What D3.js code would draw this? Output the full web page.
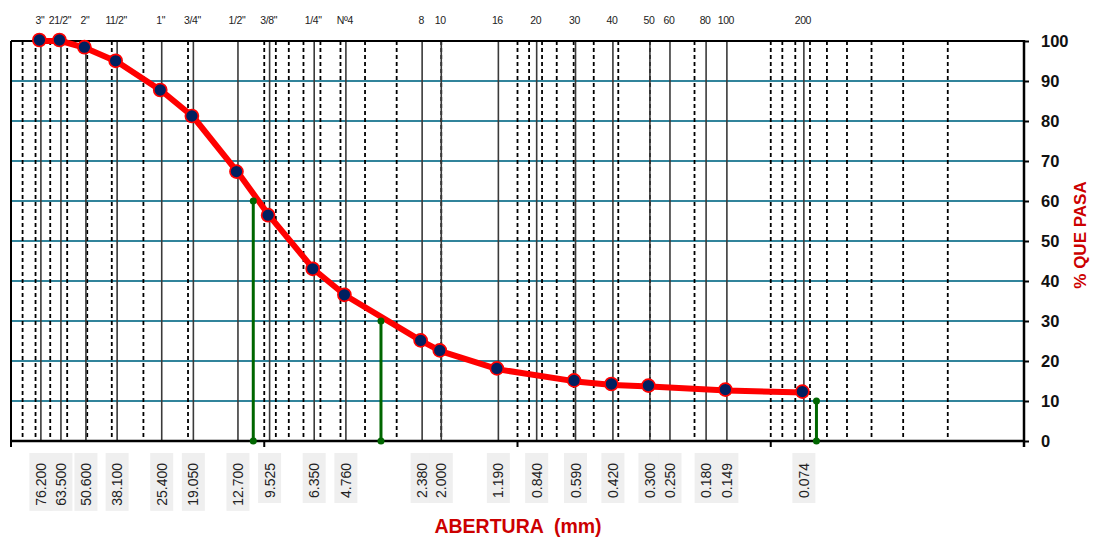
<!DOCTYPE html>
<html>
<head>
<meta charset="utf-8">
<script src="https://cdn.jsdelivr.net/npm/d3@7"></script>
<style>
  body { margin: 0; background: #fff; }
  svg { font-family: "Liberation Sans", Arial, sans-serif; }
</style>
</head>
<body>
<svg width="1093" height="539"></svg>
<script>
// sieve series (US standard), top labels and opening in mm
const sieveNames = ["3\"", "21/2\"", "2\"", "11/2\"", "1\"", "3/4\"", "1/2\"", "3/8\"", "1/4\"", "Nº4",
  "8", "10", "16", "20", "30", "40", "50", "60", "80", "100", "200"]
const sieveSizes = [76.2, 63.5, 50.6, 38.1, 25.4, 19.05, 12.7, 9.525, 6.35, 4.76,
  2.38, 2.0, 1.19, 0.84, 0.59, 0.42, 0.3, 0.25, 0.18, 0.149, 0.074]
const sizeLabels = ["76.200", "63.500", "50.600", "38.100", "25.400", "19.050", "12.700", "9.525", "6.350", "4.760",
  "2.380", "2.000", "1.190", "0.840", "0.590", "0.420", "0.300", "0.250", "0.180", "0.149", "0.074"]

// gradation curve
const curveSizes = [76.2, 63.5, 50.6, 38.1, 25.4, 19.05, 12.7, 9.525, 6.35, 4.76, 2.38, 2.0, 1.19, 0.59, 0.42, 0.3, 0.149, 0.074]
const curvePass  = [100, 100, 98.2, 94.8, 87.5, 81, 67.1, 56.2, 42.8, 36.3, 24.9, 22.4, 17.9, 14.9, 14.0, 13.6, 12.6, 12.1]

// D60, D30, D10
const dSizes = [11.05, 3.46, 0.066]
const dPass  = [60, 30, 10]

const yTicks = [0, 10, 20, 30, 40, 50, 60, 70, 80, 90, 100]

const svg = d3.select("svg")
const x = d3.scaleLog().domain([100, 0.01]).range([11, 1024])
const y = d3.scaleLinear().domain([0, 100]).range([441, 41])

const red = "#cc0000"

// horizontal grid
svg.append("g").selectAll("line")
  .data(yTicks.filter(v => v > 0 && v < 100))
  .enter().append("line")
  .attr("x1", x(100)).attr("x2", x(0.01))
  .attr("y1", d => y(d)).attr("y2", d => y(d))
  .attr("stroke", "#31849b").attr("stroke-width", 2.2)

// minor log grid, dashed
const minor = x.ticks().filter(v => v < 99.9 && v > 0.0101)
svg.append("g").selectAll("line")
  .data(minor)
  .enter().append("line")
  .attr("x1", d => x(d)).attr("x2", d => x(d))
  .attr("y1", y(100)).attr("y2", y(0))
  .attr("stroke", "#000").attr("stroke-width", 1.8)
  .attr("stroke-dasharray", "4,3")

// sieve lines
svg.append("g").selectAll("line")
  .data(sieveSizes)
  .enter().append("line")
  .attr("x1", d => x(d)).attr("x2", d => x(d))
  .attr("y1", y(100)).attr("y2", y(0))
  .attr("stroke", "#3a3a3a").attr("stroke-width", 1.6)

// frame
svg.append("line").attr("x1", x(100)).attr("x2", x(0.01)).attr("y1", y(100)).attr("y2", y(100))
  .attr("stroke", "#000").attr("stroke-width", 2)
svg.append("line").attr("x1", x(100)).attr("x2", x(100)).attr("y1", y(100)).attr("y2", y(0))
  .attr("stroke", "#000").attr("stroke-width", 2)
svg.append("line").attr("x1", x(100)).attr("x2", x(0.01)).attr("y1", y(0)).attr("y2", y(0))
  .attr("stroke", "#000").attr("stroke-width", 2.5)

// decade ticks under the bottom axis
svg.append("g").selectAll("line")
  .data([100, 10, 1, 0.1, 0.01])
  .enter().append("line")
  .attr("x1", d => x(d)).attr("x2", d => x(d))
  .attr("y1", y(0)).attr("y2", y(0) + 6)
  .attr("stroke", "#000").attr("stroke-width", 2)

// right axis
const yAxis = d3.axisRight(y).tickValues(yTicks).tickSize(5).tickPadding(12)
const ga = svg.append("g").attr("transform", `translate(${x(0.01)},0)`).call(yAxis)
ga.select(".domain").attr("stroke-width", 2.5).attr("d", `M0,${y(100) - 1}V${y(0) + 6}`)
ga.selectAll(".tick line").attr("stroke-width", 2)
ga.selectAll("text").attr("font-size", 16.5).attr("font-weight", "bold")
  .attr("font-family", "Liberation Sans, Arial, sans-serif").attr("fill", "#111")

// curve
const line = d3.line().x((d, i) => x(curveSizes[i])).y(d => y(d))
svg.append("path")
  .datum(curvePass)
  .attr("d", line)
  .attr("fill", "none").attr("stroke", "#ff0000").attr("stroke-width", 6)
  .attr("stroke-linejoin", "round")

svg.append("g").selectAll("circle")
  .data(curvePass)
  .enter().append("circle")
  .attr("cx", (d, i) => x(curveSizes[i]) - 1.5)
  .attr("cy", d => y(d) - 1)
  .attr("r", 6.5)
  .attr("fill", "#002060").attr("stroke", "#ff0000").attr("stroke-width", 1.7)

// D lines
const gd = svg.append("g")
gd.selectAll("line")
  .data(dPass)
  .enter().append("line")
  .attr("x1", (d, i) => x(dSizes[i])).attr("x2", (d, i) => x(dSizes[i]))
  .attr("y1", d => y(d)).attr("y2", y(0))
  .attr("stroke", "#006600").attr("stroke-width", 3)
gd.selectAll("circle.top")
  .data(dPass)
  .enter().append("circle").attr("class", "top")
  .attr("cx", (d, i) => x(dSizes[i])).attr("cy", d => y(d)).attr("r", 3.5).attr("fill", "#006600")
gd.selectAll("circle.bot")
  .data(dPass)
  .enter().append("circle").attr("class", "bot")
  .attr("cx", (d, i) => x(dSizes[i])).attr("cy", y(0)).attr("r", 3.5).attr("fill", "#006600")

// top sieve names
svg.append("g").selectAll("text")
  .data(sieveNames)
  .enter().append("text")
  .attr("x", (d, i) => x(sieveSizes[i]) - 1)
  .attr("y", 24)
  .attr("text-anchor", "middle")
  .attr("font-size", 10.5)
  .attr("letter-spacing", -0.4)
  .attr("fill", "#222")
  .text(d => d)

// bottom opening labels on grey boxes
const gb = svg.append("g")
const boxes = gb.append("g")
const labs = gb.selectAll("text")
  .data(sizeLabels)
  .enter().append("text")
  .attr("transform", (d, i) => `translate(${x(sieveSizes[i])},463) rotate(-90)`)
  .attr("text-anchor", "end")
  .attr("dominant-baseline", "central")
  .attr("font-size", 14)
  .attr("fill", "#222")
  .text(d => d)
labs.each(function(d, i) {
  const len = this.getComputedTextLength()
  boxes.append("rect")
    .attr("x", x(sieveSizes[i]) - 11.5).attr("y", 453)
    .attr("width", 23).attr("height", len + 15)
    .attr("fill", "#efefef")
})

// titles
svg.append("text")
  .attr("x", 518).attr("y", 533)
  .attr("text-anchor", "middle")
  .attr("font-size", 19.5).attr("font-weight", "bold")
  .attr("fill", red)
  .style("white-space", "pre")
  .text("ABERTURA  (mm)")

svg.append("text")
  .attr("transform", "translate(1080,235) rotate(-90)")
  .attr("text-anchor", "middle")
  .attr("dominant-baseline", "central")
  .attr("font-size", 17).attr("font-weight", "bold")
  .attr("fill", red)
  .text("% QUE PASA")
</script>
</body>
</html>
